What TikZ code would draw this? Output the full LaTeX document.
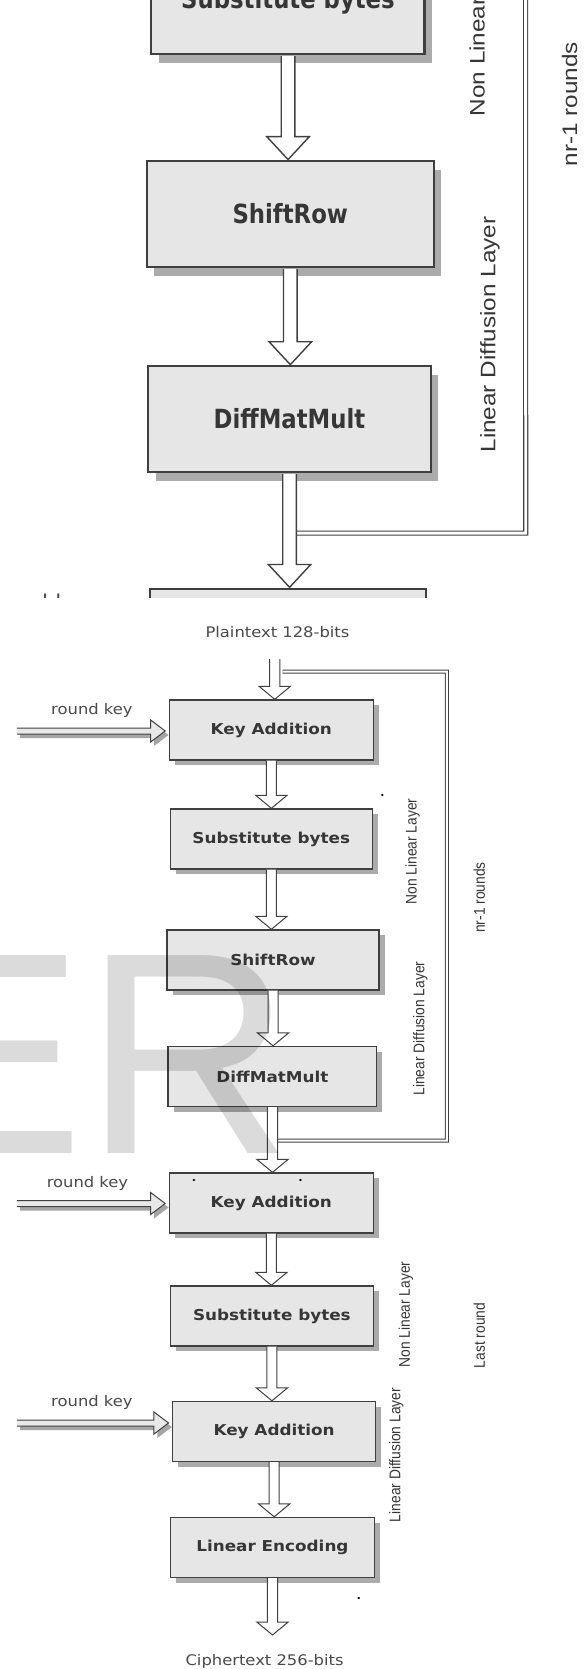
\documentclass[tikz,border=0pt]{standalone}
\usepackage{fontspec}
\setmainfont{DejaVu Sans}
\newfontfamily\arialf{Liberation Sans}
\usepackage{graphicx}
\usetikzlibrary{calc}
\definecolor{boxfill}{HTML}{E6E6E6}
\definecolor{boxline}{HTML}{3F3F3F}
\definecolor{shadowc}{HTML}{ABABAB}
\definecolor{txtc}{HTML}{363636}
\definecolor{lblc}{HTML}{4A4A4A}
\definecolor{keyfill}{HTML}{E8E8E8}
\definecolor{keyshadow}{HTML}{A5A5A5}
\definecolor{linec}{HTML}{404040}

\newcommand\lwbox{0.7pt}
\newcommand\lwarr{0.5pt}
\newcommand\lwloop{0.5pt}
\newcommand\ddloop{1pt}

\tikzset{
  procbox/.style={draw=boxline, fill=boxfill, line width=\lwbox, minimum height=30pt, inner sep=0pt, text=txtc, font=\fontsize{7.5pt}{9pt}\selectfont\bfseries},
  blk/.style={draw=linec, fill=white, line width=\lwarr, line join=miter},
  keyarr/.style={draw=linec, fill=keyfill, line width=\lwarr, line join=miter},
  keysh/.style={fill=keyshadow, draw=none},
  loopline/.style={draw=linec, line width=\lwloop, double=white, double distance=\ddloop},
  lbl/.style={text=lblc, inner sep=0pt, font=\fontsize{7.3pt}{9pt}\selectfont},
  rlbl/.style={text=txtc, inner sep=0pt, rotate=90, font=\arialf\fontsize{6.9pt}{8pt}\selectfont},
  speck/.style={fill=black, draw=none},
  wmark/.style={anchor=base west, inner sep=0pt, text=black, text opacity=0.14, font=\arialf\fontsize{143.85pt}{150pt}\selectfont},
}

% name, x, y, width, text
\newcommand\stepbox[5]{%
  \fill[shadowc] (#2,#3) ++({-#4/2+5},-25) rectangle ++(#4,60);
  \node[procbox, minimum width={#4*0.5pt}] (#1) at (#2,#3) {#5};
}
% vertical hollow block arrow: from anchor, to anchor (tip)
\newcommand\vblock[2]{%
  \path (#1 |- #2) coordinate (vt) ++(0,-13) coordinate (q2) ++(-14,0) coordinate (q3) ++(28,0) coordinate (q4);
  \path (#1) ++(-4.5,0) coordinate (q1) ++(9,0) coordinate (q5);
  \draw[blk] (q1) -- (q1 |- q2) -- (q3) -- (vt) -- (q4) -- (q5 |- q2) -- (q5);
}
% horizontal block arrow: start, tip, dx, dy, style
\newcommand\hpoly[5]{%
  \path (#2) ++(#3,#4) coordinate (ht) ++(-13,0) coordinate (h2) ++(0,-11) coordinate (h3) ++(0,22) coordinate (h4);
  \path (#1 |- #2) ++(#3,#4) ++(0,-3) coordinate (r1) ++(0,6) coordinate (r5);
  \draw[#5] (r1) -- (r1 -| h2) -- (h3) -- (ht) -- (h4) -- (r5 -| h2) -- (r5);
}

\newcommand\drawdiagram{%
  \node[lbl] (pt) at (247.5,632) {Plaintext 128-bits};
  \coordinate (pin) at (245,659);
  \stepbox{KA1}{242}{730}{182}{Key Addition}
  \stepbox{SB1}{242}{839}{180}{Substitute bytes}
  \stepbox{SR1}{243.5}{960}{189}{ShiftRow}
  \stepbox{DM1}{243}{1076.5}{186}{DiffMatMult}
  \stepbox{KA2}{242}{1203}{182}{Key Addition}
  \stepbox{SB2}{242.5}{1316}{181}{Substitute bytes}
  \stepbox{KA3}{244.5}{1431.5}{181}{Key Addition}
  \stepbox{LE}{243}{1547.5}{182}{Linear Encoding}
  \coordinate (cout) at (240.5,1635);
  \node[lbl] (ct) at (236,1661) {Ciphertext 256-bits};
  % feedback loop (nr-1 rounds)
  \path (DM1.south) ++(4.5,33.5) coordinate (lb);
  \draw[loopline] (pin) ++(7,12.5) -- ++(146.5,0) coordinate (lc) -- (lc |- lb) -- (lb);
  % main flow arrows
  \vblock{pin}{KA1.north}
  \vblock{KA1.south}{SB1.north}
  \vblock{SB1.south}{SR1.north}
  \vblock{SR1.south}{DM1.north}
  \vblock{DM1.south}{KA2.north}
  \vblock{KA2.south}{SB2.north}
  \vblock{SB2.south}{KA3.north}
  \vblock{KA3.south}{LE.north}
  \vblock{LE.south}{cout}
  % round keys
  \coordinate (rk1s) at (15,731);
  \path (KA1.west) ++(-3,1) coordinate (rk1t);
  \hpoly{rk1s}{rk1t}{3}{4}{keysh}
  \hpoly{rk1s}{rk1t}{0}{0}{keyarr}
  \node[lbl] (rk1) at (82,710) {round key};
  \coordinate (rk2s) at (15,1203.5);
  \path (KA2.west) ++(-3,0.5) coordinate (rk2t);
  \hpoly{rk2s}{rk2t}{3}{4}{keysh}
  \hpoly{rk2s}{rk2t}{0}{0}{keyarr}
  \node[lbl] (rk2) at (78,1183) {round key};
  \coordinate (rk3s) at (15,1423);
  \path (KA3.west) ++(-3,-8.5) coordinate (rk3t);
  \hpoly{rk3s}{rk3t}{3}{4}{keysh}
  \hpoly{rk3s}{rk3t}{0}{0}{keyarr}
  \node[lbl] (rk3) at (82,1402) {round key};
  % side labels
  \node[rlbl] (nl1) at (368,851.5) {Non Linear Layer};
  \node[rlbl] (ld1) at (375,1028.5) {Linear Diffusion Layer};
  \node[rlbl] (nr) at (427.5,897.5) {nr-1 rounds};
  \node[rlbl] (nl2) at (362,1314.5) {Non Linear Layer};
  \node[rlbl] (lr) at (427.5,1335.5) {Last round};
  \node[rlbl] (ld2) at (353.5,1455) {Linear Diffusion Layer};
  % specks
  \fill[speck] (341,795) circle (0.6pt);
  \fill[speck] (173,1180) circle (0.6pt);
  \fill[speck] (268,1180) circle (0.6pt);
  \fill[speck] (320,1598) circle (0.6pt);
}

\begin{document}
\begin{tikzpicture}[x=0.5pt,y=-0.5pt]
  \useasboundingbox (0,0) rectangle (586,1669);
  \fill[white] (0,0) rectangle (586,1669);
  \begin{scope}[xscale=1.1211, transform shape]
    % enlarged, stretched crop at the top
    \begin{scope}
      \clip (0,0) rectangle (522.7,597);
      \begin{scope}[shift={(-70.8,-1475.6)}, xscale=1.354, yscale=1.76, transform shape]
        \renewcommand\lwbox{1.1pt}%
        \renewcommand\lwarr{0.7pt}%
        \renewcommand\lwloop{0.6pt}%
        \renewcommand\ddloop{1.4pt}%
        \drawdiagram
      \end{scope}
    \end{scope}
    % full diagram
    \drawdiagram
  \end{scope}
  % watermark
  \node[wmark] (wm) at (-107.5,1153) {ER};
\end{tikzpicture}
\end{document}
